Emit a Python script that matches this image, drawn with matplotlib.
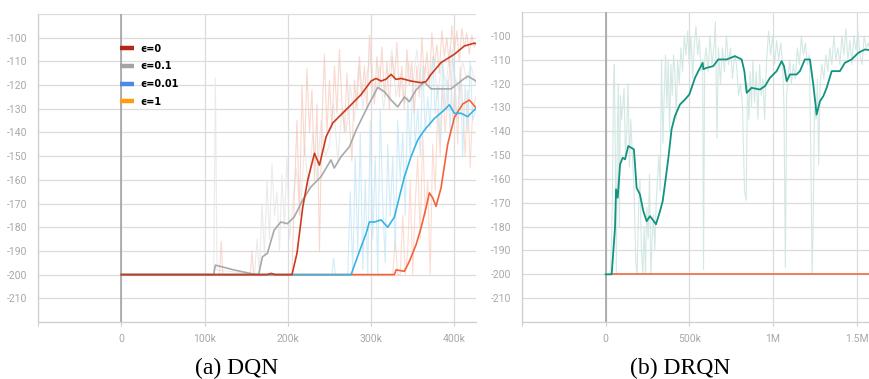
import matplotlib
matplotlib.use("Agg")
import matplotlib.pyplot as plt
from matplotlib.lines import Line2D


# ---- DQN panel (x in thousands of steps) ----
EPS0_X = [0, 175, 180, 185, 205, 211, 218, 224, 232, 238, 246, 254, 264, 276, 288,
          300, 306, 312, 318, 324, 330, 336, 348, 360, 366, 372, 384, 400, 412, 424, 426]
EPS0_Y = [-200, -200, -199.5, -200, -200, -191, -171.4, -160, -148.8, -153.8, -141.8,
          -136, -132.5, -128.3, -124, -118.3, -117.2, -118.3, -117.5, -115.5, -117.6,
          -117.2, -118.3, -119, -118.5, -115.5, -110.5, -107, -103.5, -102.3, -102.5]

EPS01_X = [0, 111, 113, 135, 159, 165, 169.5, 175.5, 183.5, 191.5, 199.6, 207.6, 217.7,
           227.7, 239.8, 251.8, 255.8, 264, 274, 282, 290, 298, 308, 316, 324, 332,
           340, 346, 354, 364, 372, 384, 396, 408, 416, 426]
EPS01_Y = [-200, -200, -196, -198, -199.8, -200, -192.5, -191, -181.3, -177.8, -178.5,
           -175.7, -168.6, -163, -158.7, -151.6, -155, -150.2, -146, -139, -133.3,
           -127.6, -121, -122.8, -126.3, -129.2, -125, -127, -122, -118.7, -121.6,
           -121.6, -121.6, -118.3, -116.2, -118.3]

EPS001_X = [0, 276, 282, 288, 294, 298, 304, 312, 320, 328, 334, 340, 348, 356, 364,
            376, 388, 394, 400, 408, 416, 426]
EPS001_Y = [-200, -200, -194.1, -188.3, -182.7, -177.8, -177.8, -176.9, -180, -175.7,
            -167.2, -158.7, -150.2, -143.2, -139, -134.1, -130.5, -128.3, -131.9,
            -131.9, -133.3, -129.8]

EPS1_X = [0, 328, 330, 340, 346, 354, 360, 366, 370, 374, 378, 384, 392, 400, 410, 418, 426]
EPS1_Y = [-200, -200, -198, -198.6, -194.4, -187.4, -180.3, -171.8, -165.5, -167.6,
          -171.2, -163.4, -145, -133.7, -128, -126.3, -129.6]

# raw (unsmoothed) traces, faint in the background
EPS0_RAW_X = [0, 118, 120, 122, 155, 157, 159, 200] + list(range(205, 425, 3)) + [426]
EPS0_RAW_Y = [-200, -200, -186, -200, -200, -190, -200, -200,
              -200, -165, -135, -175, -120, -150, -113, -140, -122, -160,
              -128, -190, -135, -107, -140, -118, -138, -112, -132, -105,
              -128, -140, -115, -135, -152, -118, -130, -108, -125, -112,
              -130, -99, -118, -128, -108, -122, -104, -125, -110, -130,
              -108, -118, -102, -125, -112, -130, -105, -120, -110, -132,
              -112, -125, -100, -118, -106, -120, -98, -112, -103, -115,
              -97, -108, -100, -112, -95, -106, -97, -110, -96, -104,
              -98, -107, -99, -104, -102]

EPS01_RAW_X = ([0, 111, 113, 115, 160] + list(range(163, 200, 3)) + [202, 206]
               + list(range(210, 425, 5)) + [426])
EPS01_RAW_Y = [-200, -200, -117, -198, -200,
               -185, -200, -170, -192, -160, -185, -153, -175, -165, -190, -158, -180, -150,
               -185, -170,
               -155, -175, -145, -165, -140, -160, -135, -150, -145, -128,
               -152, -130, -140, -120, -135, -112, -130, -115, -108, -125,
               -112, -130, -118, -105, -125, -115, -128, -110, -120, -105,
               -122, -112, -118, -108, -125, -110, -120, -104, -115, -122,
               -110, -118, -112,
               -120]

EPS001_RAW_X = [0, 253, 255, 257, 272] + list(range(275, 425, 3)) + [426]
EPS001_RAW_Y = [-200, -200, -193, -200, -200,
                -165, -200, -150, -190, -140, -198, -160, -200, -135, -185,
                -150, -200, -130, -170, -195, -145, -175, -150, -190, -135,
                -160, -140, -175, -125, -150, -118, -145, -130, -150, -112,
                -140, -125, -138, -108, -132, -120, -145, -110, -130, -118,
                -140, -105, -128, -135, -115, -150, -120, -140, -110, -135,
                -130]

EPS1_RAW_X = [0, 326] + list(range(329, 425, 3)) + [426]
EPS1_RAW_Y = [-200, -200,
              -185, -200, -200, -175, -200, -190, -160, -200, -170, -150,
              -185, -140, -175, -160, -200, -145, -165, -130, -150, -120,
              -140, -125, -110, -135, -118, -145, -112, -128, -150, -122,
              -155, -130, -125]

# ---- DRQN panel ----
DRQN_X = [0, 36, 56, 62, 72, 86, 102, 116, 135, 169, 185, 205, 225, 245, 265, 301, 325,
          341, 357, 375, 394, 414, 444, 474, 500, 534, 554, 580, 584, 604, 643, 673,
          723, 773, 813, 829, 843, 872, 922, 952, 982, 1022, 1052, 1066, 1082, 1102,
          1141, 1161, 1191, 1221, 1241, 1261, 1281, 1301, 1321, 1351, 1400, 1430,
          1470, 1510, 1550, 1580]
DRQN_Y = [-200, -200, -180.4, -164.4, -167.9, -153.9, -151.1, -151.8, -146.2, -147.6,
          -163.7, -166.5, -173.5, -177.7, -175.6, -179, -173.5, -169.3, -160.9, -151.1,
          -139.2, -133.7, -128.8, -126.7, -124.6, -117.6, -114.8, -111.3, -114, -113.4,
          -112.7, -109.9, -109.9, -108.5, -109.9, -114.8, -123.9, -121.8, -122.5,
          -121.1, -117.6, -114.8, -110.6, -112.7, -119, -116.2, -116.2, -114.8, -109.9,
          -109.9, -120.4, -133, -127.4, -125.3, -121.8, -114.8, -114.8, -111.3,
          -109.9, -107.1, -105.7, -106]

DRQN_FLAT_X = [35, 1580]
DRQN_FLAT_Y = [-200, -200]

DRQN_RAW_X = [
    0, 30, 40, 47, 52, 58, 64, 70, 76, 82,
    88, 95, 102, 110, 118, 126, 134, 142, 150, 160,
    170, 180, 188, 196, 205, 214, 222, 230, 238, 246,
    254, 262, 270, 278, 286, 294, 302, 310, 318, 326,
    334, 342, 350, 358, 366, 374, 382, 390, 398, 406,
    414, 422, 430, 440, 450, 460, 470, 480, 490, 500,
    510, 520, 530, 540, 550, 560, 570, 580, 585, 592,
    600, 612, 624, 636, 648, 656, 665, 674, 686, 698,
    710, 722, 734, 746, 758, 770, 782, 794, 806, 818,
    830, 840, 848, 856, 864, 872, 880, 890, 900, 910,
    920, 930, 940, 950, 962, 974, 986, 998, 1010, 1022,
    1034, 1046, 1058, 1066, 1074, 1082, 1090, 1100, 1110, 1122,
    1134, 1146, 1158, 1170, 1182, 1194, 1206, 1218, 1228, 1234,
    1240, 1248, 1258, 1266, 1273, 1282, 1292, 1304, 1316, 1328,
    1340, 1352, 1364, 1376, 1388, 1400, 1412, 1424, 1436, 1448,
    1460, 1472, 1484, 1496, 1508, 1520, 1533, 1545, 1557, 1570,
    1580]
DRQN_RAW_Y = [
    -200, -200, -170, -120, -112, -150, -200, -140, -120, -180,
    -125, -135, -130, -122, -150, -140, -120, -155, -135, -150,
    -165, -195, -200, -175, -160, -190, -200, -180, -200, -172,
    -185, -158, -200, -185, -175, -190, -170, -160, -150, -165,
    -110, -145, -125, -108, -130, -110, -140, -112, -125, -108,
    -115, -135, -110, -120, -105, -115, -100, -108, -98, -112,
    -100, -118, -103, -96, -108, -101, -115, -110, -198, -110,
    -105, -115, -100, -112, -104, -94, -143, -105, -120, -105,
    -115, -100, -112, -105, -118, -108, -112, -125, -120, -130,
    -165, -169, -120, -135, -115, -130, -110, -128, -115, -135,
    -112, -125, -118, -135, -110, -98, -108, -100, -112, -102,
    -110, -103, -112, -130, -197, -125, -118, -110, -120, -112,
    -118, -105, -112, -100, -108, -103, -112, -108, -160, -200,
    -180, -130, -135, -118, -154, -120, -112, -118, -108, -115,
    -105, -112, -100, -110, -105, -112, -100, -108, -97, -110,
    -102, -112, -100, -106, -98, -108, -112, -100, -105, -103,
    -106]

LEGEND_LABELS = ["ϵ=0", "ϵ=0.1", "ϵ=0.01", "ϵ=1"]
LEGEND_COLORS = ["#b3281a", "#a3a3a3", "#4c8ae8", "#ff9c12"]

Y_TICKS = list(range(-220, -89, 10))
DQN_TICKS = [-100, 0, 100, 200, 300, 400]
DQN_TICK_LABELS = ["", "0", "100k", "200k", "300k", "400k"]
DRQN_TICKS = [-500, 0, 500, 1000, 1500]
DRQN_TICK_LABELS = ["", "0", "500k", "1M", "1.5M"]

GRID = "#dcdcdc"
TICK_COLOR = "#a8a8a8"


def style_axes(ax, xticks, xlabels, xlim):
    ax.set_xlim(*xlim)
    ax.set_ylim(-220, -90)
    ax.set_yticks(Y_TICKS)
    ax.set_yticklabels(["" if v in (-220, -90) else str(v) for v in Y_TICKS])
    ax.set_xticks(xticks)
    ax.set_xticklabels(xlabels)
    ax.grid(True, color=GRID, linewidth=0.9)
    ax.set_axisbelow(True)
    for side in ("top", "right"):
        ax.spines[side].set_visible(False)
    for side in ("left", "bottom"):
        ax.spines[side].set_color("#cfcfcf")
        ax.spines[side].set_linewidth(0.9)
    ax.tick_params(axis="y", length=0, pad=8, labelsize=7.5, labelcolor=TICK_COLOR)
    ax.tick_params(axis="x", length=3, width=0.8, color="#cfcfcf", pad=6,
                   labelsize=7.5, labelcolor=TICK_COLOR)
    for lab in ax.get_xticklabels() + ax.get_yticklabels():
        lab.set_family(["Roboto", "DejaVu Sans"])
    ax.axvline(0, color="#9e9e9e", linewidth=1.1, zorder=1)


fig = plt.figure(figsize=(8.7, 3.79), dpi=100)
ax1 = fig.add_axes([38 / 870, 57 / 379, 438 / 870, 308 / 379])
ax2 = fig.add_axes([522 / 870, 57 / 379, 348 / 870, 310 / 379])

style_axes(ax1, DQN_TICKS, DQN_TICK_LABELS, (-100, 426))
style_axes(ax2, DRQN_TICKS, DRQN_TICK_LABELS, (-500, 1580))

# DQN raw traces
ax1.plot(EPS01_RAW_X, EPS01_RAW_Y, color="#e6e6e6", linewidth=0.8, alpha=0.8, zorder=2)
ax1.plot(EPS1_RAW_X, EPS1_RAW_Y, color="#fbcfbe", linewidth=0.8, alpha=0.7, zorder=2)
ax1.plot(EPS001_RAW_X, EPS001_RAW_Y, color="#bfe5f7", linewidth=0.8, alpha=0.7, zorder=2)
ax1.plot(EPS0_RAW_X, EPS0_RAW_Y, color="#f5bfae", linewidth=0.8, alpha=0.6, zorder=2)

# DQN smoothed curves
ax1.plot(EPS01_X, EPS01_Y, color="#a9a9a9", linewidth=1.2, zorder=3)
ax1.plot(EPS1_X, EPS1_Y, color="#f4623a", linewidth=1.2, zorder=3)
ax1.plot(EPS001_X, EPS001_Y, color="#35b3e6", linewidth=1.2, zorder=3)
ax1.plot(EPS0_X, EPS0_Y, color="#cc3a1e", linewidth=1.2, zorder=3)

handles = [Line2D([0], [0], color=c, linewidth=3.2, solid_capstyle="butt")
           for c in LEGEND_COLORS]
leg = ax1.legend(handles, LEGEND_LABELS, loc="upper left", bbox_to_anchor=(0.188, 0.903),
                 frameon=False, borderaxespad=0, borderpad=0, handlelength=1.4,
                 handletextpad=0.7, labelspacing=0.78,
                 prop={"size": 7, "weight": "bold"})

# DRQN
ax2.plot(DRQN_RAW_X, DRQN_RAW_Y, color="#cfe6e1", linewidth=0.8, alpha=0.9, zorder=2)
ax2.plot(DRQN_FLAT_X, DRQN_FLAT_Y, color="#f26a44", linewidth=1.2, zorder=3)
ax2.plot(DRQN_X, DRQN_Y, color="#11937f", linewidth=1.3, zorder=4)

fig.text(237 / 870, 1 - 368 / 379, "(a) DQN", ha="center", va="center",
         family="Liberation Serif", fontsize=17)
fig.text(680 / 870, 1 - 368 / 379, "(b) DRQN", ha="center", va="center",
         family="Liberation Serif", fontsize=17)

fig.savefig("out.png", dpi=100)
